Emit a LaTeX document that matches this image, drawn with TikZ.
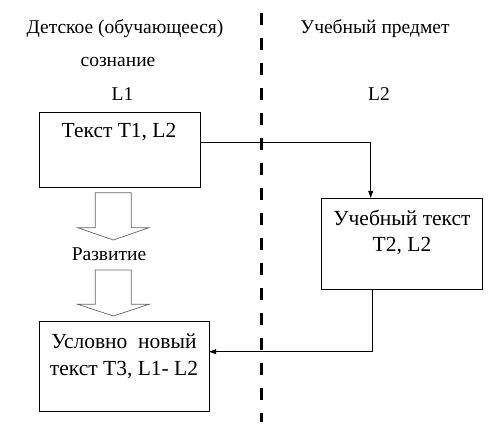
\documentclass[tikz,border=0pt]{standalone}
\usepackage{fontspec}
\setmainfont{Liberation Serif}
\usetikzlibrary{arrows.meta}
\begin{document}
\begin{tikzpicture}[x=1pt,y=-1pt,
  hdr/.style={font=\fontsize{19.5}{22}\selectfont, inner sep=0pt, anchor=center},
  boxt/.style={font=\fontsize{21.5}{24}\selectfont, inner sep=0pt, anchor=center},
  frame/.style={draw=black, line width=0.8pt},
  conn/.style={draw=black, line width=0.7pt, -{Triangle[length=7pt,width=5pt]}},
  blockarrow/.style={draw=black!60, line width=0.7pt, fill=white},
  divider/.style={draw=black, line width=2.6pt, dash pattern=on 12pt off 13pt}]
\useasboundingbox (0,0) rectangle (498,433);
% headers
\node[hdr] (h1) at (125,29) {Детское (обучающееся)};
\node[hdr] (h2) at (118,62) {сознание};
\node[hdr] (h3) at (122.5,94) {L1};
\node[hdr] (h4) at (375,29) {Учебный предмет};
\node[hdr] (h5) at (379,94) {L2};
% divider
\coordinate (d1) at (261.7,13);
\coordinate (d2) at (261.7,422);
\draw[divider] (d1) -- (d2);
% boxes
\path[frame] (39.3,112.3) rectangle (200.3,187.3);
\node (b1) at (119.8,149.8) [minimum width=161pt, minimum height=75pt, inner sep=0pt] {};
\node[boxt] (t1) at (119,131.7) {Текст Т1, L2};
\path[frame] (321.7,198) rectangle (482.3,289.3);
\node (b2) at (402,243.65) [minimum width=160.6pt, minimum height=91.3pt, inner sep=0pt] {};
\node[boxt] (t2a) at (402,218) {Учебный текст};
\node[boxt] (t2b) at (402,246) {Т2, L2};
\path[frame] (39.3,321.7) rectangle (209,411);
\node (b3) at (124.15,366.35) [minimum width=169.7pt, minimum height=89.3pt, inner sep=0pt] {};
\node[boxt] (t3a) at (124,341) {Условно~~новый};
\node[boxt] (t3b) at (124,370) {текст Т3, L1- L2};
% connectors
\draw[conn] (b1.east |- 0,142.7) -| (b2.north -| 370.7,0);
\draw[conn] (b2.south -| 372.3,0) |- (b3.east |- 0,351.7);
% block arrows
\path[blockarrow] (95.3,192.7) -- (131.3,192.7) -- (131.3,227.7) -- (149,227.7) -- (113.3,240) -- (77.7,227.7) -- (95.3,227.7) -- cycle;
\node[hdr] (dev) at (109,254) {Развитие};
\path[blockarrow] (95.3,270) -- (131.3,270) -- (131.3,304.3) -- (149,304.3) -- (113.3,316) -- (77.7,304.3) -- (95.3,304.3) -- cycle;
\end{tikzpicture}
\end{document}
